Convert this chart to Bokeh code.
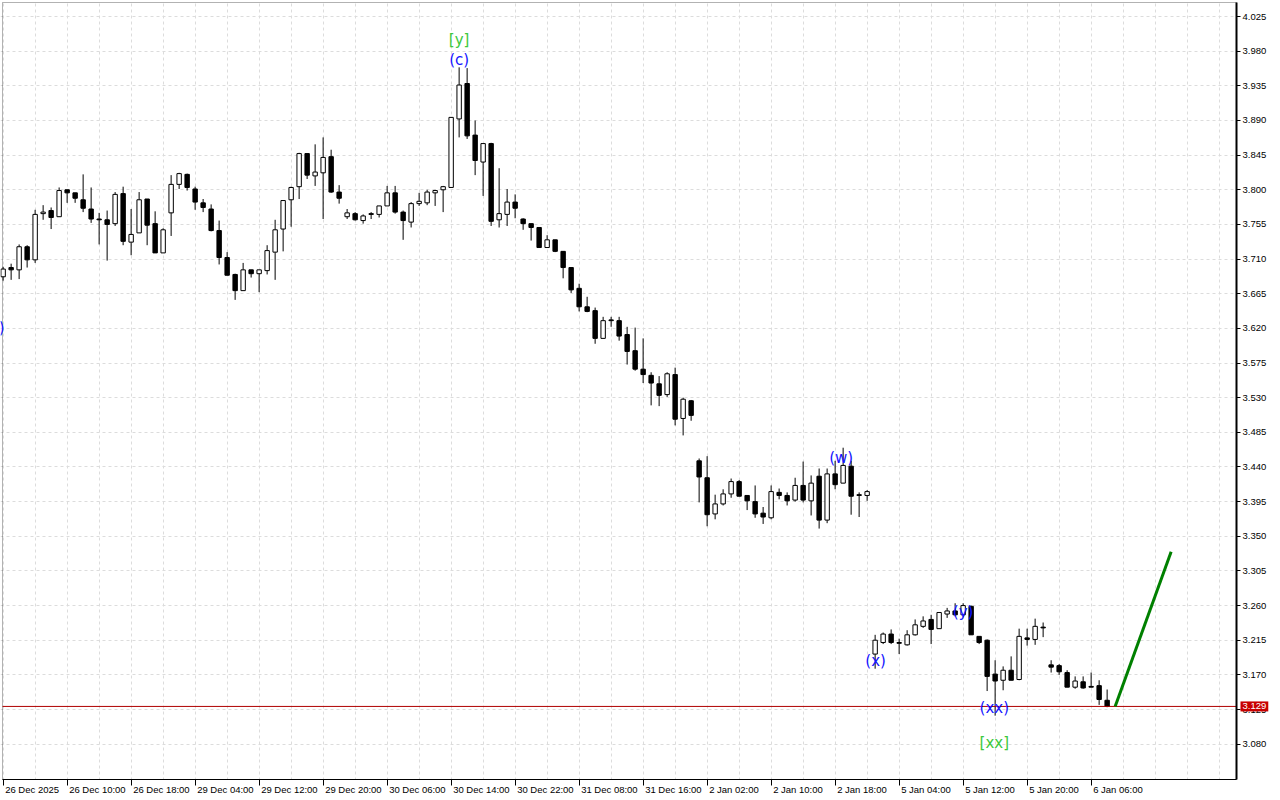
from bokeh.plotting import figure
from bokeh.models import ColumnDataSource, FixedTicker, Range1d, Label, PrintfTickFormatter, BoxAnnotation
from bokeh.core.properties import value
from bokeh.embed import file_html
from bokeh.resources import INLINE

# ---------------- data (hourly OHLC) ----------------
opens = [3.687, 3.699, 3.696, 3.726, 3.709, 3.769, 3.773, 3.765, 3.800, 3.796,
         3.787, 3.775, 3.762, 3.761, 3.756, 3.795, 3.732, 3.744, 3.788, 3.756,
         3.718, 3.770, 3.807, 3.820, 3.801, 3.783, 3.775, 3.747, 3.712, 3.690,
         3.669, 3.696, 3.691, 3.695, 3.719, 3.749, 3.787, 3.804, 3.847, 3.818,
         3.822, 3.843, 3.797, 3.765, 3.769, 3.760, 3.769, 3.768, 3.779, 3.796,
         3.771, 3.758, 3.782, 3.783, 3.796, 3.800, 3.803, 3.892, 3.938, 3.871,
         3.836, 3.860, 3.761, 3.768, 3.784, 3.762, 3.756, 3.751, 3.725, 3.735,
         3.720, 3.699, 3.672, 3.648, 3.643, 3.607, 3.631, 3.630, 3.612, 3.591,
         3.567, 3.559, 3.548, 3.534, 3.560, 3.503, 3.526, 3.448, 3.426, 3.379,
         3.392, 3.405, 3.421, 3.403, 3.395, 3.380, 3.374, 3.407, 3.403, 3.397,
         3.416, 3.396, 3.428, 3.371, 3.431, 3.419, 3.441, 3.404, 3.403, 3.197,
         3.212, 3.223, 3.212, 3.209, 3.222, 3.233, 3.242, 3.230, 3.249, 3.253,
         3.248, 3.259, 3.220, 3.215, 3.171, 3.163, 3.176, 3.164, 3.218, 3.216,
         3.232, 3.183, 3.182, 3.173, 3.154, 3.161, 3.155, 3.156, 3.137]
highs = [3.700, 3.704, 3.729, 3.728, 3.774, 3.780, 3.777, 3.803, 3.800, 3.796,
         3.820, 3.803, 3.770, 3.773, 3.797, 3.804, 3.775, 3.797, 3.788, 3.772,
         3.750, 3.819, 3.822, 3.821, 3.804, 3.788, 3.781, 3.760, 3.719, 3.691,
         3.705, 3.696, 3.696, 3.728, 3.761, 3.786, 3.804, 3.848, 3.847, 3.859,
         3.868, 3.852, 3.806, 3.775, 3.771, 3.768, 3.771, 3.779, 3.805, 3.805,
         3.773, 3.784, 3.796, 3.800, 3.800, 3.805, 3.894, 3.959, 3.958, 3.890,
         3.860, 3.861, 3.828, 3.801, 3.794, 3.763, 3.756, 3.751, 3.741, 3.735,
         3.720, 3.699, 3.678, 3.661, 3.647, 3.635, 3.635, 3.635, 3.622, 3.621,
         3.607, 3.563, 3.558, 3.563, 3.569, 3.530, 3.527, 3.451, 3.454, 3.404,
         3.411, 3.425, 3.423, 3.403, 3.416, 3.388, 3.416, 3.412, 3.407, 3.426,
         3.447, 3.429, 3.438, 3.438, 3.448, 3.465, 3.448, 3.407, 3.410, 3.222,
         3.225, 3.229, 3.217, 3.228, 3.242, 3.246, 3.248, 3.251, 3.257, 3.263,
         3.263, 3.260, 3.220, 3.216, 3.189, 3.181, 3.194, 3.230, 3.230, 3.243,
         3.238, 3.189, 3.184, 3.176, 3.168, 3.168, 3.173, 3.163, 3.151]
lows = [3.682, 3.683, 3.684, 3.699, 3.705, 3.761, 3.749, 3.765, 3.783, 3.783,
        3.771, 3.757, 3.729, 3.708, 3.753, 3.728, 3.715, 3.744, 3.728, 3.718,
        3.718, 3.740, 3.801, 3.799, 3.774, 3.771, 3.746, 3.703, 3.689, 3.657,
        3.669, 3.686, 3.667, 3.690, 3.683, 3.720, 3.752, 3.788, 3.814, 3.805,
        3.762, 3.796, 3.782, 3.762, 3.760, 3.756, 3.762, 3.764, 3.779, 3.769,
        3.735, 3.751, 3.779, 3.780, 3.779, 3.771, 3.803, 3.868, 3.866, 3.819,
        3.792, 3.753, 3.751, 3.753, 3.763, 3.748, 3.734, 3.725, 3.725, 3.719,
        3.685, 3.666, 3.642, 3.641, 3.600, 3.607, 3.622, 3.604, 3.573, 3.565,
        3.549, 3.520, 3.519, 3.531, 3.494, 3.481, 3.500, 3.394, 3.363, 3.372,
        3.390, 3.400, 3.402, 3.384, 3.374, 3.366, 3.372, 3.398, 3.390, 3.395,
        3.394, 3.377, 3.360, 3.367, 3.411, 3.419, 3.378, 3.375, 3.396, 3.178,
        3.210, 3.210, 3.197, 3.208, 3.221, 3.231, 3.210, 3.230, 3.244, 3.246,
        3.245, 3.222, 3.210, 3.149, 3.117, 3.150, 3.163, 3.163, 3.208, 3.209,
        3.219, 3.173, 3.170, 3.154, 3.152, 3.152, 3.154, 3.131, 3.128]
closes = [3.697, 3.696, 3.726, 3.709, 3.768, 3.771, 3.764, 3.799, 3.796, 3.789,
          3.776, 3.762, 3.761, 3.755, 3.794, 3.733, 3.742, 3.787, 3.754, 3.718,
          3.748, 3.807, 3.821, 3.803, 3.784, 3.777, 3.747, 3.712, 3.689, 3.669,
          3.696, 3.691, 3.696, 3.721, 3.748, 3.786, 3.803, 3.847, 3.819, 3.823,
          3.842, 3.797, 3.789, 3.770, 3.761, 3.766, 3.768, 3.779, 3.796, 3.771,
          3.760, 3.782, 3.785, 3.797, 3.799, 3.804, 3.894, 3.936, 3.870, 3.838,
          3.860, 3.759, 3.769, 3.784, 3.776, 3.756, 3.751, 3.725, 3.735, 3.720,
          3.699, 3.670, 3.648, 3.642, 3.607, 3.630, 3.630, 3.610, 3.590, 3.567,
          3.560, 3.549, 3.533, 3.561, 3.502, 3.528, 3.507, 3.427, 3.378, 3.392,
          3.405, 3.421, 3.402, 3.396, 3.379, 3.375, 3.408, 3.403, 3.396, 3.416,
          3.397, 3.419, 3.371, 3.431, 3.417, 3.442, 3.402, 3.403, 3.408, 3.215,
          3.223, 3.212, 3.211, 3.222, 3.235, 3.240, 3.229, 3.251, 3.253, 3.248,
          3.260, 3.222, 3.212, 3.168, 3.162, 3.176, 3.163, 3.220, 3.216, 3.233,
          3.231, 3.180, 3.174, 3.154, 3.162, 3.153, 3.154, 3.138, 3.129]

time_labels = ["26 Dec 2025", "26 Dec 10:00", "26 Dec 18:00", "29 Dec 04:00", "29 Dec 12:00",
               "29 Dec 20:00", "30 Dec 06:00", "30 Dec 14:00", "30 Dec 22:00", "31 Dec 08:00",
               "31 Dec 16:00", "2 Jan 02:00", "2 Jan 10:00", "2 Jan 18:00", "5 Jan 04:00",
               "5 Jan 12:00", "5 Jan 20:00", "6 Jan 06:00"]
bars_per_label = 8
bars_per_grid = 4

price_ticks = [4.025, 3.980, 3.935, 3.890, 3.845, 3.800, 3.755, 3.710, 3.665, 3.620, 3.575,
               3.530, 3.485, 3.440, 3.395, 3.350, 3.305, 3.260, 3.215, 3.170, 3.125, 3.080]

bid_price = 3.129

wave_text = ["[y]", "(c)", "(w)", "(x)", "(y)", "(xx)", "[xx]"]
wave_bar = [57.0, 57.0, 104.75, 109.06, 120.0, 123.9, 123.9]
wave_price = [3.994, 3.969, 3.452, 3.188, 3.251, 3.127, 3.081]
wave_color = ["#3cc83c", "#1414ff", "#1414ff", "#1414ff", "#1414ff", "#1414ff", "#3cc83c"]

edge_text = ["(b)"]
edge_bar = [0.17]
edge_price = [3.620]

proj_bar = [139, 146]
proj_price = [3.129, 3.330]

# ---------------- layout constants (pixels / view) ----------------
PX = 8.0          # pixels per bar
PY = 770.0        # pixels per price unit
CW, CH = 1278, 798
X0 = -0.33        # bar value at canvas left
Y1 = 4.0458       # price at canvas top
XL, XR = -0.08, 154.17      # plot area left / right (price axis)
YB, YT = 3.0341, 4.0432     # plot area bottom / top

# ---------------- figure ----------------
n = len(opens)
idx = list(range(n))
src = ColumnDataSource(dict(
    x=idx, h=highs, l=lows,
    top=[max(o, c) for o, c in zip(opens, closes)],
    bottom=[min(o, c) for o, c in zip(opens, closes)],
    fill=["white" if c >= o else "black" for o, c in zip(opens, closes)],
))

p = figure(frame_width=CW, frame_height=CH,
           x_range=Range1d(X0, X0 + CW / PX), y_range=Range1d(Y1 - CH / PY, Y1),
           output_backend="svg", toolbar_location=None, y_axis_location="right",
           min_border=0, min_border_left=0, min_border_top=0, min_border_right=0,
           min_border_bottom=0, background_fill_color="white", border_fill_color="white")
p.outline_line_color = None

# grids
p.xgrid.ticker = FixedTicker(ticks=list(range(0, int(XR) + 1, bars_per_grid)))
for g in (p.xgrid, p.ygrid):
    g.grid_line_color = "#dcdcdc"
    g.grid_line_dash = "3 3"
    g.grid_line_width = 1

# white masks over the label margins (drawn above the grid, below axes)
p.add_layout(BoxAnnotation(left=XR, fill_color="white", fill_alpha=1.0, line_color=None, level="underlay"))
p.add_layout(BoxAnnotation(top=YB, fill_color="white", fill_alpha=1.0, line_color=None, level="underlay"))

# right price axis
yax = p.yaxis[0]
yax.fixed_location = XR
yax.bounds = (YB, YT)
yax.ticker = FixedTicker(ticks=price_ticks)
yax.formatter = PrintfTickFormatter(format="%.3f")
yax.axis_line_color = "black"
yax.axis_line_width = 2
yax.major_tick_out = 4
yax.major_tick_in = 0
yax.major_tick_line_color = "black"
yax.minor_tick_line_color = None
yax.major_label_standoff = 2
yax.major_label_text_font = "Liberation Sans"
yax.major_label_text_font_size = "9.5px"
yax.major_label_text_color = "black"

# bottom time axis (ticks; texts drawn left-aligned after each tick)
tick_pos = [i * bars_per_label for i in range(len(time_labels))]
xax = p.xaxis[0]
xax.fixed_location = YB
xax.bounds = (XL, XR)
xax.ticker = FixedTicker(ticks=tick_pos)
xax.axis_line_color = "black"
xax.axis_line_width = 1
xax.major_tick_out = 6
xax.major_tick_in = 0
xax.major_tick_line_color = "black"
xax.minor_tick_line_color = None
xax.major_label_text_color = None
for pos, txt in zip(tick_pos, time_labels):
    p.add_layout(Label(x=pos, y=YB, x_offset=2, y_offset=-4, text=txt,
                       text_align="left", text_baseline="top",
                       text_font="Liberation Sans", text_font_size="9.5px",
                       text_color="black"))

# plot-area border (left and top edges)
p.add_layout(BoxAnnotation(left=XL, right=XR, bottom=YB, top=YT, fill_color=None,
                           line_color="black", line_width=1, level="underlay"))

# candles
p.segment(x0="x", y0="l", x1="x", y1="h", source=src, line_color="black", line_width=1)
p.vbar(x="x", width=0.55, top="top", bottom="bottom", source=src,
       fill_color="fill", line_color="black", line_width=1)

# bid line
p.line([XL, XR], [bid_price, bid_price], line_color="#b00000", line_width=1)

# projection line
p.line(proj_bar, proj_price, line_color="#008000", line_width=3)

# wave labels
wsrc = ColumnDataSource(dict(x=wave_bar, y=wave_price, t=wave_text, c=wave_color))
p.text(x="x", y="y", text="t", text_color="c", source=wsrc,
       text_font=value("DejaVu Sans"), text_font_size=value("15px"),
       text_align="center", text_baseline="middle")
p.text(x=edge_bar, y=edge_price, text=edge_text, text_color="#1414ff",
       text_font=value("DejaVu Sans"), text_font_size=value("15px"),
       text_align="right", text_baseline="middle")

# bid price box on the axis
p.add_layout(Label(x=XR, y=bid_price, x_offset=4, text="%.3f" % bid_price,
                   text_align="left", text_baseline="middle",
                   text_font="Liberation Sans", text_font_size="9.5px",
                   text_color="white", background_fill_color="#c80000", padding=2))

open("out.html", "w").write(file_html(p, INLINE))
